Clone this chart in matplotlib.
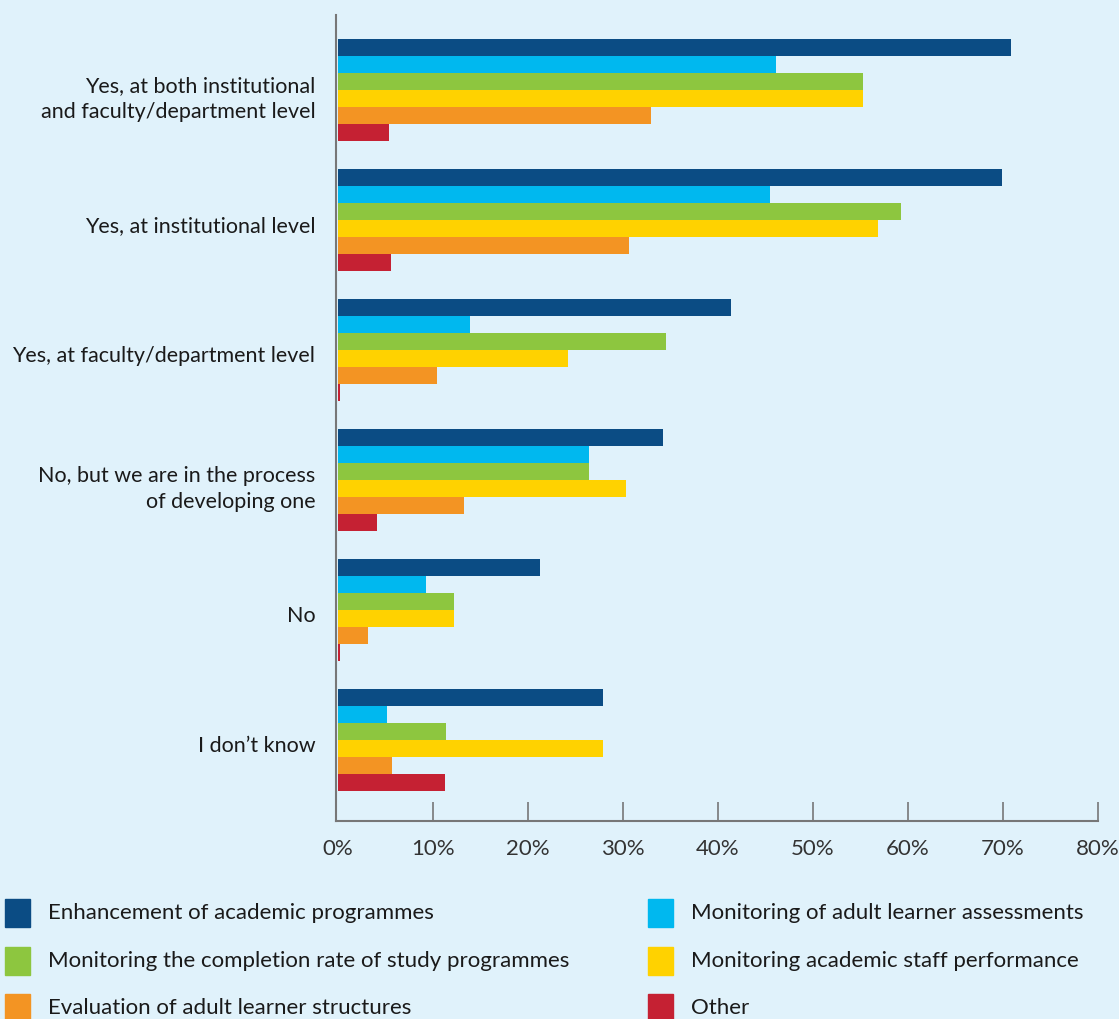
import matplotlib
matplotlib.use('Agg')
import matplotlib.pyplot as plt
import matplotlib.transforms as mtransforms
from matplotlib.patches import Rectangle
import numpy as np

plt.rcParams['font.family'] = ['Lato', 'DejaVu Sans']

categories = [
    'Yes, at both institutional\nand faculty/department level',
    'Yes, at institutional level',
    'Yes, at faculty/department level',
    'No, but we are in the process\nof developing one',
    'No',
    'I don\u2019t know',
]
series_names = [
    'Enhancement of academic programmes',
    'Monitoring of adult learner assessments',
    'Monitoring the completion rate of study programmes',
    'Monitoring academic staff performance',
    'Evaluation of adult learner structures',
    'Other',
]
colors = ['#0B4C84', '#00B8EF', '#8DC63F', '#FFD200', '#F39423', '#C52133']

enhancement = [70.8, 69.9, 41.4, 34.2, 21.3, 27.9]
assessments = [46.1, 45.5, 13.9, 26.4, 9.3, 5.2]
completion = [55.3, 59.3, 34.5, 26.4, 12.2, 11.4]
staff = [55.3, 56.8, 24.2, 30.3, 12.2, 27.9]
structures = [32.9, 30.6, 10.4, 13.3, 3.2, 5.7]
other = [5.4, 5.6, 0.2, 4.1, 0.2, 11.3]
values = [enhancement, assessments, completion, staff, structures, other]

x_ticks = [0, 10, 20, 30, 40, 50, 60, 70, 80]

bg = '#E0F2FB'
fig = plt.figure(figsize=(11.19, 10.19), dpi=100, facecolor=bg)
ax = fig.add_axes([0.3003, 0.1943, 0.6810, 0.7910], facecolor=bg)

bar_h = 17 / 130
pos = np.arange(len(categories))
for i, (vals, c) in enumerate(zip(values, colors)):
    y = pos + (i - 2.5) * bar_h
    ax.barh(y, vals, height=bar_h, color=c, edgecolor='none')

ax.set_ylim(5.623, -0.577)
ax.set_xlim(-0.2, 80)
ax.set_yticks(pos)
ax.set_yticklabels(categories, fontsize=15.5, color='#1a1a1a', linespacing=1.4)
ax.tick_params(axis='y', length=0, pad=15)
# nudge the category labels down a little
shift = mtransforms.ScaledTranslation(0, -4 / 100, fig.dpi_scale_trans)
for lab in ax.get_yticklabels():
    lab.set_transform(lab.get_transform() + shift)

ax.set_xticks(x_ticks)
ax.set_xticklabels([f'{t}%' for t in x_ticks], fontsize=16, color='#333333')
ax.tick_params(axis='x', direction='in', length=14, width=1.2, color='#777777', pad=13)
ax.xaxis.get_major_ticks()[0].tick1line.set_visible(False)

for s in ['top', 'right']:
    ax.spines[s].set_visible(False)
for s in ['left', 'bottom']:
    ax.spines[s].set_color('#777777')
    ax.spines[s].set_linewidth(1.5)

# legend, two columns of square swatches below the axes
W, H = fig.get_size_inches() * fig.dpi
col_x = [5, 648]
row_y = [913, 961, 1008]
for k, (name, c) in enumerate(zip(series_names, colors)):
    col = k % 2
    row = k // 2
    x0 = col_x[col]
    yc = row_y[row]
    fig.patches.append(Rectangle((x0 / W, 1 - (yc + 14) / H), 25 / W, 28 / H,
                                 transform=fig.transFigure, color=c))
    fig.text((x0 + 43) / W, 1 - yc / H, name, fontsize=16, color='#1a1a1a',
             va='center', ha='left')

fig.savefig('out.png', dpi=100, facecolor=bg)
